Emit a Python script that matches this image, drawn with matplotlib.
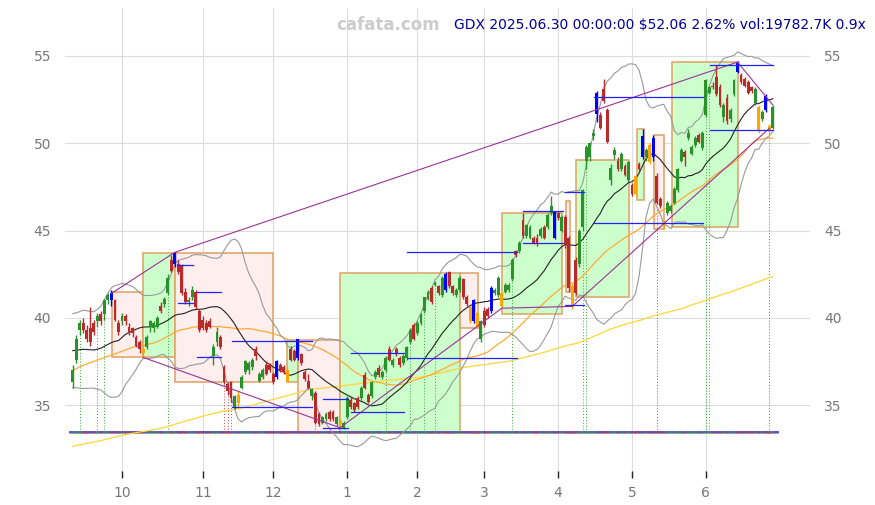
import numpy as np
import pandas as pd
import matplotlib
matplotlib.use('Agg')
import matplotlib.pyplot as plt
from matplotlib.patches import Rectangle

# ---------------- data ----------------
holidays = ['2024-11-28', '2024-12-25', '2025-01-01', '2025-01-09', '2025-01-20',
            '2025-02-17', '2025-04-18', '2025-05-26', '2025-06-19']
dates = pd.bdate_range('2024-09-11', '2025-06-30')
dates = dates[~dates.isin(pd.to_datetime(holidays))]

opens = [36.3, 37.6, 39.3, 39.7, 39.3, 39.4, 39.7, 39.8, 40.2, 40.2,
         41.0, 41.4, 41.0, 39.7, 39.8, 40.1, 39.5, 39.4, 38.9, 38.6,
         38.2, 38.3, 39.5, 39.4, 39.5, 40.7, 40.8, 41.4, 43.3, 43.1,
         43.1, 43.0, 41.5, 40.9, 41.2, 41.5, 40.4, 39.9, 39.7, 39.8,
         37.8, 38.6, 38.9, 37.2, 36.2, 36.3, 34.9, 35.6, 36.0, 36.9,
         37.0, 37.2, 38.2, 36.4, 36.6, 37.3, 37.3, 36.8, 36.6, 37.3,
         37.2, 37.0, 38.2, 38.1, 38.8, 37.9, 36.9, 36.4, 35.5, 35.7,
         34.5, 34.0, 34.2, 34.6, 34.6, 33.9, 34.1, 33.7, 34.3, 35.3,
         35.1, 35.4, 35.4, 36.7, 35.6, 35.5, 36.6, 37.1, 36.6, 37.0,
         38.2, 37.3, 38.2, 37.7, 37.4, 37.7, 38.6, 39.6, 39.1, 39.7,
         40.4, 41.1, 41.7, 41.9, 41.8, 41.3, 42.5, 42.6, 41.8, 41.3,
         41.6, 42.2, 41.2, 40.6, 41.0, 40.3, 38.8, 40.4, 40.5, 40.4,
         41.4, 41.3, 41.4, 41.5, 41.6, 42.2, 43.8, 43.8, 45.6, 44.7,
         44.6, 44.6, 44.6, 44.7, 45.2, 45.2, 46.0, 46.1, 46.0, 45.0,
         45.8, 44.6, 41.8, 43.3, 43.1, 45.2, 49.0, 49.2, 50.4, 52.9,
         51.6, 53.1, 51.9, 47.9, 49.3, 49.0, 48.5, 48.7, 47.9, 47.6,
         48.1, 48.8, 50.4, 49.2, 49.9, 50.3, 48.1, 46.8, 45.5, 46.0,
         46.1, 46.6, 47.3, 49.0, 49.5, 50.3, 49.4, 49.9, 50.5, 49.7,
         51.6, 52.9, 53.3, 53.8, 53.2, 51.5, 52.6, 51.4, 52.8, 54.6,
         53.9, 53.7, 53.5, 53.2, 52.3, 52.1, 51.4, 52.7, 51.0, 50.9]
highs = [37.3, 39.0, 39.9, 40.0, 39.6, 40.6, 39.9, 40.3, 40.4, 41.1,
         41.4, 41.6, 41.1, 39.9, 40.3, 40.2, 39.7, 39.5, 39.0, 38.7,
         38.4, 39.0, 39.9, 39.8, 40.1, 40.9, 41.2, 42.5, 43.6, 43.75,
         43.3, 43.1, 41.7, 41.2, 41.8, 41.6, 40.5, 40.1, 39.9, 40.0,
         38.5, 39.5, 39.0, 37.3, 36.3, 36.4, 35.6, 35.8, 36.7, 37.6,
         37.5, 37.7, 38.4, 36.9, 37.1, 37.5, 37.4, 36.9, 37.6, 37.4,
         37.3, 37.1, 38.4, 38.2, 38.8, 38.0, 37.0, 36.8, 36.0, 35.8,
         34.6, 34.4, 34.6, 34.7, 34.7, 34.4, 34.2, 34.1, 35.5, 35.5,
         35.2, 35.5, 36.1, 36.9, 35.7, 36.4, 37.0, 37.3, 37.0, 37.8,
         38.4, 37.7, 38.3, 37.8, 37.9, 38.4, 39.4, 39.7, 39.8, 40.3,
         41.2, 41.6, 41.8, 42.1, 41.9, 42.4, 42.6, 42.7, 41.9, 41.7,
         42.4, 42.3, 41.3, 40.7, 41.1, 40.4, 39.9, 40.6, 40.6, 41.8,
         41.7, 42.4, 41.5, 42.0, 42.0, 43.4, 43.9, 44.4, 46.0, 45.4,
         45.3, 44.7, 44.8, 45.2, 45.3, 46.0, 47.0, 46.1, 46.1, 45.9,
         45.9, 44.7, 42.0, 43.5, 45.1, 47.4, 49.9, 50.1, 50.8, 53.0,
         51.8, 53.7, 52.0, 48.8, 49.8, 49.2, 49.5, 48.8, 49.0, 47.7,
         48.2, 48.9, 50.8, 49.7, 50.0, 50.5, 48.3, 46.9, 45.6, 46.7,
         46.5, 47.5, 48.6, 49.7, 49.6, 50.8, 49.9, 50.4, 50.6, 50.7,
         53.7, 53.3, 53.5, 54.5, 53.4, 52.3, 52.8, 52.0, 53.7, 54.7,
         54.0, 53.8, 53.6, 53.3, 53.2, 52.2, 51.9, 52.8, 51.1, 52.2]
lows = [36.0, 37.4, 39.0, 39.1, 38.6, 38.4, 39.0, 39.5, 39.6, 39.9,
        40.8, 40.7, 39.8, 39.0, 39.6, 39.6, 39.0, 38.9, 38.3, 38.0,
        37.7, 38.2, 39.2, 39.2, 39.4, 40.3, 40.6, 41.3, 42.6, 42.9,
        42.5, 41.3, 40.8, 40.7, 41.0, 40.5, 39.2, 39.3, 39.2, 39.4,
        37.3, 38.4, 38.2, 36.2, 35.6, 35.2, 34.8, 34.9, 35.9, 36.8,
        36.8, 37.0, 37.6, 36.3, 36.5, 36.7, 36.9, 36.2, 36.5, 36.9,
        36.8, 36.3, 37.5, 37.5, 37.6, 37.3, 36.4, 35.9, 35.3, 33.9,
        33.8, 33.9, 34.1, 34.1, 34.1, 33.8, 33.7, 33.6, 34.2, 34.8,
        34.6, 34.8, 35.3, 35.9, 35.1, 35.4, 36.5, 36.6, 36.5, 36.9,
        37.5, 37.2, 37.8, 37.2, 37.3, 37.6, 38.5, 38.7, 39.0, 39.6,
        40.3, 41.0, 40.8, 41.8, 41.3, 41.2, 41.5, 41.7, 41.3, 41.2,
        41.5, 41.1, 40.7, 39.7, 39.7, 39.4, 38.6, 39.5, 40.0, 40.3,
        41.3, 41.2, 40.6, 41.4, 41.5, 42.1, 43.5, 43.7, 44.6, 44.6,
        44.5, 44.2, 44.1, 44.6, 44.5, 45.1, 45.9, 44.5, 45.6, 44.9,
        44.0, 41.5, 40.5, 41.3, 42.9, 45.0, 48.5, 49.0, 50.2, 51.2,
        50.8, 52.3, 50.0, 47.6, 49.1, 48.4, 48.4, 48.1, 47.8, 47.0,
        47.0, 48.4, 49.1, 49.0, 48.8, 49.0, 46.5, 46.3, 45.1, 45.9,
        46.0, 46.5, 47.2, 48.9, 48.7, 50.2, 49.3, 49.8, 50.0, 49.6,
        51.5, 52.8, 53.1, 52.7, 52.1, 51.2, 51.1, 51.2, 52.7, 54.0,
        53.4, 53.2, 52.8, 52.9, 52.2, 50.6, 51.3, 51.8, 50.5, 50.8]
closes = [37.0, 38.8, 39.7, 39.3, 38.8, 38.6, 39.2, 40.1, 39.8, 41.0,
          41.3, 41.0, 39.9, 39.2, 40.1, 39.8, 39.1, 39.1, 38.4, 38.2,
          38.0, 38.9, 39.8, 39.7, 40.0, 40.4, 41.1, 42.3, 42.7, 43.7,
          42.6, 41.4, 40.9, 41.0, 41.6, 40.6, 39.3, 39.4, 39.3, 39.5,
          38.3, 39.2, 38.3, 36.3, 35.8, 35.4, 35.5, 35.1, 36.6, 37.5,
          37.4, 37.6, 37.8, 36.8, 37.0, 36.8, 37.0, 36.3, 37.5, 37.0,
          36.9, 36.3, 37.6, 37.6, 37.7, 37.4, 36.5, 36.0, 35.9, 34.0,
          33.9, 34.3, 34.5, 34.2, 34.2, 34.3, 33.9, 34.0, 35.4, 34.9,
          34.7, 34.9, 36.0, 36.0, 35.2, 36.3, 36.9, 36.7, 36.9, 37.7,
          37.6, 37.6, 37.9, 37.3, 37.8, 38.3, 39.3, 38.8, 39.7, 40.2,
          41.2, 41.5, 40.9, 42.0, 41.4, 42.3, 41.6, 41.8, 41.4, 41.6,
          42.3, 41.2, 40.8, 39.8, 39.8, 39.5, 39.8, 39.6, 40.1, 41.7,
          41.6, 42.3, 40.7, 41.9, 41.9, 43.3, 43.6, 44.3, 44.7, 45.3,
          45.2, 44.3, 44.2, 45.1, 44.6, 45.9, 46.4, 44.6, 45.7, 45.8,
          44.2, 41.7, 40.6, 41.4, 45.0, 47.3, 49.8, 50.0, 50.6, 51.7,
          50.9, 52.4, 50.1, 48.6, 49.6, 48.5, 49.4, 48.2, 48.9, 47.1,
          47.1, 48.5, 49.2, 49.6, 48.9, 49.2, 46.6, 46.4, 45.3, 46.6,
          46.4, 47.4, 48.5, 49.6, 49.2, 50.6, 49.8, 50.3, 50.1, 50.6,
          53.6, 53.2, 53.2, 52.8, 52.2, 52.2, 51.3, 51.9, 53.6, 54.1,
          53.5, 53.3, 52.9, 53.0, 53.1, 50.7, 51.8, 51.9, 50.73, 52.06]

# closes before the visible window (for the moving averages)
prior_closes = [30.2, 30.6, 31.0, 31.6, 31.3,
                32.3, 31.8, 31.0, 30.7, 30.4, 30.1, 29.6, 29.9, 30.9, 31.7,
                31.5, 31.2, 31.4, 31.7, 31.9, 32.1, 32.3, 32.5, 32.6, 32.4,
                31.7, 31.2, 30.8, 30.6, 30.0, 29.7, 29.8, 29.5, 29.2, 28.6,
                28.1, 28.3, 28.5, 28.7, 29.0, 28.8, 28.6, 29.0, 29.4, 28.9, 28.6,
                28.0, 27.7, 27.1, 26.9, 26.7, 26.4, 26.2, 25.6, 25.3, 25.9,
                26.2, 26.5, 26.2, 26.4, 26.3, 25.9, 25.7, 25.6, 26.0, 26.8,
                27.9, 28.5, 29.1, 29.3, 29.8, 29.6, 29.2, 29.3, 29.2, 29.0,
                28.8, 29.4, 30.1, 30.5, 30.1, 30.6, 30.7, 30.8, 31.5, 32.3,
                32.8, 33.0, 33.1, 33.7, 33.7, 34.1, 34.0, 33.8, 34.4, 34.6, 34.8,
                35.0, 34.3, 33.9, 33.1, 32.7, 33.0, 32.9, 32.5, 32.6, 32.8, 32.1,
                32.0, 32.2, 32.7, 33.3, 33.4, 34.2, 34.5, 34.6, 34.8, 35.3, 35.4,
                35.2, 36.2, 36.6, 36.2, 34.9, 34.5, 34.9, 34.2, 34.4, 34.0, 34.2,
                34.5, 34.9, 35.1, 34.2, 32.7, 33.0, 33.2, 33.4, 32.8, 32.3,
                32.1, 32.4, 32.5, 32.8, 32.9, 32.7, 32.0, 32.4, 32.5,
                33.1, 33.6, 34.3, 35.1, 34.6, 35.0, 35.7, 36.0, 36.2, 37.1, 37.9,
                37.8, 36.4, 35.9, 36.1, 35.9, 35.2, 35.3, 35.6, 36.0, 37.0, 37.7,
                37.1, 37.6, 36.1, 35.8, 36.1, 36.4, 37.6, 37.5, 38.0, 38.3, 39.3,
                38.6, 39.1, 38.9, 39.4, 39.3, 38.5, 38.9, 39.1, 38.9, 38.5, 38.3,
                36.6, 36.2, 37.0, 37.0, 36.8, 36.6]

blue_idx = [11, 29, 58, 64, 106, 114, 119, 137, 149, 162, 165, 189, 197]
orange_idx = [20, 47, 61, 76, 113, 115, 122, 142, 160, 164, 168, 195, 198]

box_start = [11.07, 20.05, 29.05, 61.0, 64.1, 76.0, 110.1, 122.1, 140.2, 143.2, 160.3, 165.3, 170.3]
box_end = [20.05, 29.05, 57.0, 64.1, 76.0, 110.1, 115.2, 139.2, 141.3, 158.2, 162.4, 168.1, 189.2]
box_low = [37.73, 37.73, 36.3, 36.3, 33.4, 33.4, 39.4, 40.2, 41.5, 41.2, 46.75, 45.07, 45.22]
box_high = [41.46, 43.7, 43.7, 38.7, 38.7, 42.55, 42.55, 45.98, 46.7, 49.04, 50.8, 50.47, 54.67]
box_up = [False, True, False, True, False, True, False, True, False, True, True, False, True]

seg_start = [29.9, 35.3, 45.3, 71.1, 79.1, 95.0, 128.0, 139.9, 148.2, 181.1]
seg_end = [34.2, 42.1, 68.0, 78.2, 94.2, 126.3, 139.4, 145.3, 179.2, 199.1]
seg_hi = [43.02, 41.46, 38.67, 35.34, 38.0, 43.79, 46.12, 47.19, 52.65, 54.48]
seg_lo = [40.83, 37.73, 34.87, 33.66, 34.58, 37.68, 44.27, 40.73, 45.43, 50.76]

upper_idx = [11, 29, 189, 199]
upper_px = [41.4, 43.75, 54.65, 52.2]
lower_idx = [20, 76, 122, 142, 198]
lower_px = [37.73, 33.7, 40.55, 40.65, 50.85]

green_marks = [2, 7, 9, 27, 89, 96, 100, 103, 125, 145, 146, 180, 181]
red_marks = [43, 44, 45, 69, 166, 198]

vol_base = 33.44
title_txt = 'GDX 2025.06.30 00:00:00 $52.06 2.62% vol:19782.7K 0.9x'
yticks = [35, 40, 45, 50, 55]

# ---------------- derived ----------------
o = np.array(opens); h = np.array(highs); l = np.array(lows); c = np.array(closes)
n = len(c)
idx = np.arange(n)
allc = pd.Series(prior_closes + closes)
npre = len(prior_closes)
ma20 = allc.rolling(20).mean().values[npre:]
sd20 = allc.rolling(20).std(ddof=0).values[npre:]
ma50 = allc.rolling(50).mean().values[npre:]
ma200 = allc.rolling(200).mean().values[npre:]

months = pd.Series(dates.month)
tick_pos = [i for i in range(1, n) if months[i] != months[i - 1]]
tick_lab = [str(months[i]) for i in tick_pos]

# ---------------- figure ----------------
fig = plt.figure(figsize=(8.75, 5.05), dpi=100)
ax = fig.add_axes([65 / 875, 27 / 505, 745 / 875, 470 / 505])
ax.set_xlim(-2.2, 209.6)
ax.set_ylim(30.82, 57.75)

ax.grid(True, color='#dddddd', lw=0.8, zorder=0)
ax.set_axisbelow(True)
for s in ax.spines.values():
    s.set_visible(False)

ax.set_xticks(tick_pos)
ax.set_xticklabels(tick_lab)
ax.set_yticks(yticks)
ax.tick_params(axis='x', direction='in', length=5, width=1, color='#222222',
               labelsize=10, labelcolor='#777777', pad=6)
ax.tick_params(axis='y', length=0, labelsize=10, labelcolor='#777777',
               labelleft=True, labelright=True, pad=10)

# boxes
for xs, xe, lo_, hi_, upb in zip(box_start, box_end, box_low, box_high, box_up):
    fc = '#ccffcc' if upb else '#ffeeee'
    ax.add_patch(Rectangle((xs, lo_), xe - xs, hi_ - lo_, facecolor=fc,
                           edgecolor='#e0a060', lw=1.1, zorder=1))

# baseline
ax.plot([idx[0] - 0.8, idx[-1] + 1.5], [vol_base - 0.07] * 2, color='#999999', lw=1.2, zorder=2)
ax.plot([idx[0] - 0.8, idx[-1] + 1.5], [vol_base] * 2, color='#4444dd', lw=1.3, zorder=2)
up = c >= o
vcol = np.where(up, '#44aa44', '#cc4444')
ax.bar(idx, 0.16, bottom=vol_base - 0.1, width=0.75, color=vcol, alpha=0.45, zorder=2)

# dotted verticals
for i in green_marks:
    ax.plot([i, i], [vol_base, l[i]], color='#33aa33', lw=0.7, ls=(0, (1, 2)), zorder=2)
for i in red_marks:
    ax.plot([i, i], [vol_base, l[i]], color='#cc4444', lw=0.7, ls=(0, (1, 2)), zorder=2)

# moving averages / bands
ax.plot(idx, ma200, color='#ffd633', lw=0.9, zorder=2)
ax.plot(idx, ma50, color='#ffaa33', lw=0.9, zorder=2)
ax.plot(idx, ma20 + 2 * sd20, color='#999999', lw=0.8, zorder=2)
ax.plot(idx, ma20 - 2 * sd20, color='#999999', lw=0.8, zorder=2)
ax.plot(idx, ma20, color='#222222', lw=0.8, zorder=2)

# candles
cols = np.where(up, '#2a922a', '#bb2a2a').astype(object)
for i in blue_idx:
    cols[i] = '#0000ff'
for i in orange_idx:
    cols[i] = '#ffa500'
ax.vlines(idx, l, h, colors=list(cols), lw=1.0, zorder=3)
body_lo = np.minimum(o, c)
body_h = np.maximum(np.abs(c - o), 0.07)
ax.bar(idx, body_h, bottom=body_lo, width=0.82, color=list(cols), lw=0, zorder=3)

# trend lines
ax.plot(upper_idx, upper_px, color='#993399', lw=0.8, zorder=4)
ax.plot(lower_idx, lower_px, color='#993399', lw=0.8, zorder=4)

# support / resistance segments
for xs, xe, hi_, lo_ in zip(seg_start, seg_end, seg_hi, seg_lo):
    ax.plot([xs, xe], [hi_, hi_], color='#2222ff', lw=0.9, zorder=4)
    ax.plot([xs, xe], [lo_, lo_], color='#2222ff', lw=0.9, zorder=4)

fig.text(388 / 875, 1 - 25 / 505, 'cafata.com', color='#cccccc', fontsize=12,
         fontweight='bold', ha='center', va='center')
fig.text(454 / 875, 1 - 25 / 505, title_txt, color='#000099', fontsize=10,
         ha='left', va='center')

fig.savefig('out.png', dpi=100)
